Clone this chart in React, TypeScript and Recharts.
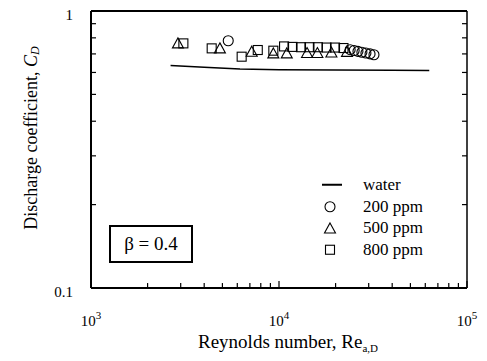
import React from 'react';
import { ScatterChart, Scatter, XAxis, YAxis, Legend, Customized, ReferenceLine } from 'recharts';

const serif = "'Liberation Serif', 'Times New Roman', serif";

// water (line)
const waterRe = [2650, 4000, 6200, 10000, 20000, 40000, 63000];
const waterCd = [0.636, 0.627, 0.618, 0.614, 0.612, 0.611, 0.61];

// 200 ppm (circles)
const circleRe = [5370, 23900, 25100, 26300, 27600, 29000, 30500, 32000];
const circleCd = [0.781, 0.725, 0.72, 0.715, 0.71, 0.705, 0.7, 0.695];

// 500 ppm (triangles)
const triangleRe = [2900, 4850, 7160, 9330, 11000, 14100, 16000, 19000, 23000];
const triangleCd = [0.764, 0.733, 0.713, 0.703, 0.703, 0.705, 0.705, 0.708, 0.712];

// 800 ppm (squares)
const squareRe = [3100, 4385, 6330, 7710, 9330, 10640, 11800, 13090, 14520, 16100, 17900, 19860, 22030];
const squareCd = [0.764, 0.733, 0.684, 0.723, 0.719, 0.745, 0.742, 0.74, 0.74, 0.74, 0.738, 0.738, 0.735];

const xTicks = [1000, 2000, 3000, 4000, 5000, 6000, 7000, 8000, 9000,
  10000, 20000, 30000, 40000, 50000, 60000, 70000, 80000, 90000, 100000];
const xMajor = [1000, 10000, 100000];
const yTicks = [0.1, 0.2, 0.3, 0.4, 0.5, 0.6, 0.7, 0.8, 0.9, 1];
const yMajor = [0.1, 1];

const legendNames = ['water', '200 ppm', '500 ppm', '800 ppm'];

const toPoints = (re: number[], cd: number[]) => re.map((r, i) => ({ re: r, cd: cd[i] }));

const waterData = toPoints(waterRe, waterCd);
const circleData = toPoints(circleRe, circleCd);
const triangleData = toPoints(triangleRe, triangleCd);
const squareData = toPoints(squareRe, squareCd);

const CircleShape = (p: any) => (
  <circle cx={p.cx} cy={p.cy} r={5} fill="none" stroke="#000" strokeWidth={1.1} />
);
const TriangleShape = (p: any) => (
  <path
    d={`M${p.cx},${p.cy - 5.5}L${p.cx + 5.5},${p.cy + 4.5}L${p.cx - 5.5},${p.cy + 4.5}Z`}
    fill="none" stroke="#000" strokeWidth={1.1}
  />
);
const SquareShape = (p: any) => (
  <rect x={p.cx - 4.5} y={p.cy - 4.5} width={9} height={9} fill="none" stroke="#000" strokeWidth={1.1} />
);
const NoShape = () => <g />;

const renderXTick = ({ x, y, payload }: any) => {
  const exp = Math.round(Math.log10(payload.value));
  return (
    <text x={x} y={y + 38} textAnchor="middle" fontSize={15} fontFamily={serif} fill="#000">
      10<tspan dy={-7} fontSize={11}>{exp}</tspan>
    </text>
  );
};

const renderYTick = ({ x, y, payload }: any) => (
  <text x={x - 18} y={y + 9} textAnchor="end" fontSize={15} fontFamily={serif} fill="#000">
    {payload.value}
  </text>
);

const YTitle = ({ viewBox }: any) => {
  const cx = viewBox.x + 31;
  const cy = viewBox.y + 127;
  return (
    <text x={cx} y={cy} transform={`rotate(-90 ${cx} ${cy})`} textAnchor="middle"
      dominantBaseline="central" fontSize={18} fontFamily={serif} fill="#000">
      Discharge coefficient, <tspan fontStyle="italic">C</tspan>
      <tspan fontStyle="italic" fontSize={12} dy={4}>D</tspan>
    </text>
  );
};

const XTitle = ({ viewBox }: any) => (
  <text x={viewBox.x + 197} y={viewBox.y + 60} textAnchor="middle" fontSize={19} fontFamily={serif} fill="#000">
    Reynolds number, Re<tspan fontSize={11} dy={4}>a,D</tspan>
  </text>
);

const legendIcon = (i: number) => {
  if (i === 0) return <line x1={5} x2={25} y1={10.75} y2={10.75} stroke="#000" strokeWidth={2} />;
  if (i === 1) return <CircleShape cx={13} cy={10.75} />;
  if (i === 2) return <TriangleShape cx={13} cy={11.5} />;
  return <SquareShape cx={13} cy={10.75} />;
};

const LegendContent = () => (
  <div style={{ fontFamily: serif, fontSize: 17, color: '#000' }}>
    {legendNames.map((name, i) => (
      <div key={name} style={{ position: 'relative', height: 21.5 }}>
        <svg width={28} height={21.5} style={{ position: 'absolute', left: 0, top: 0 }}>
          {legendIcon(i)}
        </svg>
        <span style={{ position: 'absolute', left: 46, top: 0, lineHeight: '21.5px', whiteSpace: 'nowrap' }}>
          {name}
        </span>
      </div>
    ))}
  </div>
);

const BetaBox = () => (
  <g>
    <rect x={110} y={226} width={82} height={36} fill="none" stroke="#000" strokeWidth={2} />
    <text x={151} y={250} textAnchor="middle" fontSize={19} fontFamily={serif} fill="#000">
      β = 0.4
    </text>
  </g>
);

export default function App() {
  const axisLine = { stroke: '#000', strokeWidth: 2 };
  const tickLine = { stroke: '#000', strokeWidth: 1.2 };
  const ax = { xAxisId: 'main', yAxisId: 'main' };
  return (
    <div style={{ position: 'absolute', left: 0, top: 0, background: '#fff' }}>
      <ScatterChart width={487} height={361} margin={{ top: 10, right: 19, bottom: 0, left: 0 }}>
        <XAxis xAxisId="main" type="number" dataKey="re" scale="log" domain={[1000, 100000]} allowDataOverflow
          ticks={xMajor} interval={0} height={73} tickSize={0} tickMargin={0}
          tick={renderXTick} axisLine={axisLine} tickLine={false} label={<XTitle />} />
        <YAxis yAxisId="main" type="number" dataKey="cd" scale="log" domain={[0.1, 1]} allowDataOverflow
          ticks={yMajor} interval={0} width={91} tickSize={0} tickMargin={0}
          tick={renderYTick} axisLine={axisLine} tickLine={false} label={<YTitle />} />
        <XAxis xAxisId="top" orientation="top" type="number" scale="log" domain={[1000, 100000]}
          allowDataOverflow ticks={xTicks} interval={0} height={1} tickSize={-5}
          tick={NoShape} axisLine={axisLine} tickLine={tickLine} />
        <YAxis yAxisId="right" orientation="right" type="number" scale="log" domain={[0.1, 1]}
          allowDataOverflow ticks={yTicks} interval={0} width={1} tickSize={-5}
          tick={NoShape} axisLine={{ stroke: '#000', strokeWidth: 1.5 }} tickLine={tickLine} />
        {/* inward ticks on the bottom and left sides, in data units */}
        {xTicks.map((t) => (
          <ReferenceLine key={`xt${t}`} {...ax} stroke="#000" strokeWidth={1.2} ifOverflow="visible"
            segment={[{ x: t, y: 0.1 }, { x: t, y: xMajor.includes(t) ? 0.106 : 0.1042 }]} />
        ))}
        {yTicks.map((t) => (
          <ReferenceLine key={`yt${t}`} {...ax} stroke="#000" strokeWidth={1.2} ifOverflow="visible"
            segment={[{ x: 1000, y: t }, { x: yMajor.includes(t) ? 1090 : 1063, y: t }]} />
        ))}
        <Scatter name="water" data={waterData} {...ax}
          line={{ stroke: '#000', strokeWidth: 1.5 }} shape={NoShape} isAnimationActive={false} />
        <Scatter name="200 ppm" data={circleData} {...ax} shape={CircleShape} isAnimationActive={false} />
        <Scatter name="500 ppm" data={triangleData} {...ax} shape={TriangleShape} isAnimationActive={false} />
        <Scatter name="800 ppm" data={squareData} {...ax} shape={SquareShape} isAnimationActive={false} />
        <Legend layout="vertical" align="center" verticalAlign="middle" content={<LegendContent />}
          wrapperStyle={{ left: 317, top: 174, width: 130 }} />
        <Customized component={BetaBox} />
      </ScatterChart>
    </div>
  );
}
